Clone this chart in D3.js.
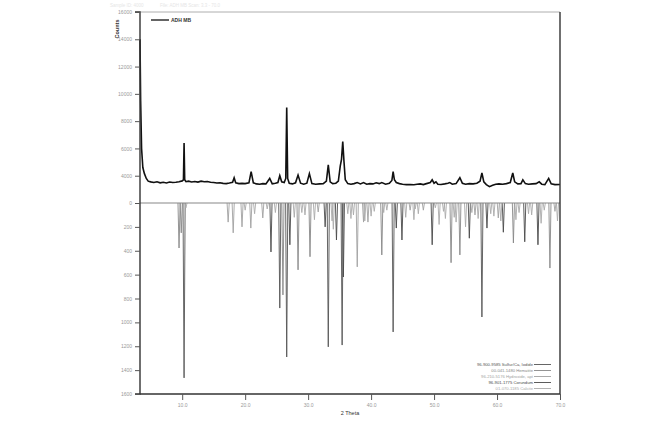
<!DOCTYPE html>
<html>
<head>
  <meta charset='utf-8' />
  <title>XRD pattern</title>
  <style>
    body { margin: 0; background: #fff; }
    svg text { font-family: 'Liberation Sans', Arial, sans-serif; }
  </style>
</head>
<body>
<div id="chart"></div>
<script src='https://d3js.org/d3.v7.min.js' charset='utf-8'></script>
<script>
  // measured pattern (2 theta, counts)
  const theta = [3.3, 3.4, 3.55, 3.75, 4.0, 4.3, 4.6, 5.0, 5.5, 6.0, 6.5, 7.0, 7.5, 8.0, 8.5, 9.0, 9.5, 10.0, 10.2, 10.3, 10.4, 10.6,
    11.0, 11.5, 12.0, 12.5, 13.0, 13.5, 14.0, 14.5, 15.0, 15.5, 16.0, 16.5, 17.0, 17.5, 18.0, 18.25, 18.5, 19.0, 19.5, 20.0,
    20.6, 20.95, 21.3, 21.8, 22.3, 22.8, 23.3, 23.9, 24.3, 24.8, 25.2, 25.5, 25.8, 26.2, 26.45, 26.6, 26.75, 27.0, 27.5,
    28.0, 28.4, 28.8, 29.3, 29.8, 30.2, 30.6, 31.2, 31.8, 32.4, 32.9, 33.2, 33.5, 33.9, 34.4, 34.8, 35.1, 35.3, 35.5, 35.7,
    35.9, 36.3, 36.8, 37.3, 37.8, 38.3, 38.8, 39.3, 39.8, 40.3, 40.8, 41.3, 41.7, 42.3, 42.9, 43.3, 43.5, 43.7, 44.0, 44.5,
    45.0, 45.6, 46.2, 46.8, 47.3, 47.8, 48.3, 48.8, 49.4, 49.7, 50.0, 50.3, 50.6, 51.1, 51.7, 52.2, 52.5, 52.9, 53.5, 54.1,
    54.5, 55.0, 55.6, 56.2, 56.8, 57.3, 57.6, 57.9, 58.3, 58.8, 59.3, 59.8, 60.3, 60.9, 61.5, 62.1, 62.5, 62.8, 63.3, 63.8,
    64.1, 64.5, 65.0, 65.6, 66.2, 66.7, 67.1, 67.6, 68.2, 68.6, 69.2, 70.0]
  const counts = [14000, 9500, 6000, 4600, 4150, 3800, 3600, 3550, 3500, 3560, 3480, 3520, 3470, 3540, 3500, 3520, 3560, 3620, 3700, 6400, 3700, 3560,
    3600, 3540, 3580, 3530, 3600, 3560, 3580, 3520, 3500, 3470, 3480, 3440, 3420, 3460, 3520, 3850, 3480, 3420, 3440, 3420,
    3480, 4300, 3480, 3400, 3380, 3420, 3400, 3800, 3400, 3450, 3500, 4000, 3550, 3500, 3800, 9000, 3800, 3450, 3400,
    3480, 4050, 3450, 3380, 3450, 4150, 3420, 3380, 3400, 3420, 3600, 4800, 3550, 3420, 3450, 3600, 4700, 5200, 6500, 5000,
    3700, 3420, 3380, 3420, 3500, 3400, 3500, 3380, 3420, 3400, 3480, 3420, 3500, 3380, 3450, 3650, 4300, 3700, 3500, 3420,
    3380, 3350, 3360, 3340, 3380, 3400, 3350, 3420, 3500, 3700, 3450, 3550, 3380, 3360, 3400, 3450, 3500, 3380, 3420, 3850,
    3450, 3380, 3420, 3400, 3450, 3600, 4200, 3550, 3350, 3200, 3300, 3380, 3400, 3380, 3420, 3500, 4200, 3550, 3400, 3420,
    3700, 3420, 3380, 3400, 3420, 3550, 3380, 3350, 3800, 3400, 3350, 3360]

  // reference patterns (stick positions and intensities)
  const refNames = ['96-900-9585 Sulfur/Ca, Iodide', '00-041-1480 Hematite', '96-210-5176 Hydroxide, apt',
    '96-901-1775 Corundum', '01-070-1185 Calcite']
  const refColors = ['#555', '#888', '#a2a2a2', '#4a4a4a', '#aaa']
  const refTheta = [
    [10.3, 25.5, 26.6, 33.2, 35.4, 43.5, 57.6],
    [9.5, 9.85, 26.0, 28.4, 30.3, 41.7, 52.7, 54.1, 62.6, 68.4],
    [17.3, 18.1, 19.5, 20.9, 22.8, 31.6, 37.8, 38.8, 39.5, 46.2, 48.3, 56.5, 60.2, 69.2],
    [24.1, 27.1, 32.7, 34.5, 35.6, 44.0, 44.9, 49.7, 55.6, 58.4, 61.0, 64.4, 66.5],
    [10.6, 20.0, 21.5, 23.5, 24.8, 27.8, 29.0, 29.5, 31.0, 33.8, 34.0, 36.3, 36.8, 37.2, 39.0, 40.0, 40.5, 42.0, 42.5,
      45.5, 46.8, 47.0, 47.5, 50.2, 50.8, 51.5, 51.8, 53.2, 53.5, 55.0, 56.0, 57.0, 59.0, 59.5, 60.6, 63.0, 63.5, 65.0,
      65.5, 67.0, 67.5, 69.6]
  ]
  const refInt = [
    [1465, 880, 1290, 1205, 1190, 1080, 955],
    [377, 250, 770, 560, 450, 435, 500, 435, 335, 545],
    [160, 250, 200, 210, 125, 75, 535, 160, 160, 60, 60, 100, 125, 70],
    [410, 350, 200, 310, 620, 210, 310, 350, 295, 210, 245, 325, 350],
    [40, 60, 90, 50, 80, 120, 80, 100, 140, 150, 220, 90, 130, 100, 150, 110, 70, 80, 60,
      120, 140, 50, 90, 40, 180, 70, 130, 120, 160, 200, 80, 130, 90, 110, 150, 140, 80, 90,
      100, 170, 60, 150]
  ]

  const xTicks = [10, 20, 30, 40, 50, 60, 70]
  const topTicks = [4000, 6000, 8000, 10000, 12000, 14000, 16000]
  const botTicks = [0, 200, 400, 600, 800, 1000, 1200, 1400, 1600]

  const width = 650, height = 424
  const mLeft = 140, mRight = 560, mTop = 12, mMid = 203, mBottom = 394

  const svg = d3.select('#chart').append('svg')
    .attr('width', width)
    .attr('height', height)

  const x = d3.scaleLinear().domain([3.3, 70]).range([mLeft, mRight])
  const yTop = d3.scaleLinear().domain([2000, 16000]).range([mMid, mTop])
  const yBot = d3.scaleLinear().domain([0, 1600]).range([mMid, mBottom])

  // faint header text
  svg.append('text').attr('x', 110).attr('y', 7).attr('font-size', 4.5).attr('fill', '#e6e6e6')
    .text('Sample ID: 4000')
  svg.append('text').attr('x', 160).attr('y', 7).attr('font-size', 4.5).attr('fill', '#e6e6e6')
    .text('File: ADH MB   Scan: 3.3 - 70.0')

  // reference sticks, drawn as narrow peaks
  refTheta.forEach((arr, k) => {
    svg.append('g').selectAll('path')
      .data(arr.map((t, i) => [t, refInt[k][i]]))
      .join('path')
        .attr('d', d => `M${x(d[0] - 0.17)},${yBot(0)}L${x(d[0])},${yBot(d[1])}L${x(d[0] + 0.17)},${yBot(0)}`)
        .attr('fill', 'none')
        .attr('stroke', refColors[k])
        .attr('stroke-width', 0.9)
  })

  // zero line
  svg.append('line')
    .attr('x1', mLeft).attr('x2', mRight)
    .attr('y1', mMid).attr('y2', mMid)
    .attr('stroke', '#888').attr('stroke-width', 1.2)

  // measured line
  const line = d3.line()
    .x(d => x(d[0]))
    .y(d => yTop(d[1]))
  svg.append('path')
    .datum(theta.map((t, i) => [t, counts[i]]))
    .attr('d', line)
    .attr('fill', 'none')
    .attr('stroke', '#111')
    .attr('stroke-width', 1.6)

  // frame
  svg.append('line').attr('x1', mLeft).attr('x2', mRight).attr('y1', mTop).attr('y2', mTop)
    .attr('stroke', '#999').attr('stroke-width', 0.8)
  svg.append('line').attr('x1', mRight).attr('x2', mRight).attr('y1', mTop).attr('y2', mBottom)
    .attr('stroke', '#333').attr('stroke-width', 1.4)

  // axes
  const axisTop = svg.append('g')
    .attr('transform', `translate(${mLeft},0)`)
    .call(d3.axisLeft(yTop).tickValues(topTicks).tickSize(5).tickPadding(3).tickFormat(d3.format('d')))
  const axisBot = svg.append('g')
    .attr('transform', `translate(${mLeft},0)`)
    .call(d3.axisLeft(yBot).tickValues(botTicks).tickSize(5).tickPadding(3).tickFormat(d3.format('d')))
  const axisX = svg.append('g')
    .attr('transform', `translate(0,${mBottom})`)
    .call(d3.axisBottom(x).tickValues(xTicks).tickSize(6).tickPadding(3).tickFormat(d3.format('.1f')))

  ;[axisTop, axisBot, axisX].forEach(g => {
    g.select('.domain').attr('stroke', '#333').attr('stroke-width', 1.4)
    g.selectAll('.tick line').attr('stroke', '#555').attr('stroke-width', 1)
    g.selectAll('.tick text').attr('fill', '#999').attr('font-size', 5)
  })
  axisTop.select('.domain').attr('d', `M-5,${yTop(16000)}H0V${mMid}`)
  axisBot.select('.domain').attr('d', `M0,${mMid}V${mBottom}H-5`)
  axisX.select('.domain').attr('d', `M${mLeft},0H${mRight}`)

  // axis titles
  svg.append('text')
    .attr('x', 350).attr('y', 415)
    .attr('text-anchor', 'middle')
    .attr('font-size', 5.5)
    .attr('fill', '#333')
    .text('2 Theta')
  svg.append('text')
    .attr('transform', 'translate(119,29) rotate(-90)')
    .attr('text-anchor', 'middle')
    .attr('font-size', 5.5)
    .attr('font-weight', 'bold')
    .attr('fill', '#333')
    .text('Counts')

  // legend for the measured pattern
  svg.append('line').attr('x1', 151).attr('x2', 169).attr('y1', 20).attr('y2', 20)
    .attr('stroke', '#111').attr('stroke-width', 1.3)
  svg.append('text').attr('x', 171).attr('y', 21.8).attr('font-size', 5).attr('font-weight', 'bold')
    .attr('fill', '#333').text('ADH MB')

  // legend for the references
  const leg = svg.append('g').selectAll('g')
    .data(refNames)
    .join('g')
      .attr('transform', (d, i) => `translate(0,${364 + i * 6})`)
  leg.append('text')
    .attr('x', 533).attr('y', 1.5)
    .attr('text-anchor', 'end')
    .attr('font-size', 4.2)
    .attr('fill', (d, i) => refColors[i])
    .text(d => d)
  leg.append('line')
    .attr('x1', 534).attr('x2', 551).attr('y1', 0.5).attr('y2', 0.5)
    .attr('stroke', (d, i) => refColors[i])
    .attr('stroke-width', 0.9)
</script>
</body>
</html>
